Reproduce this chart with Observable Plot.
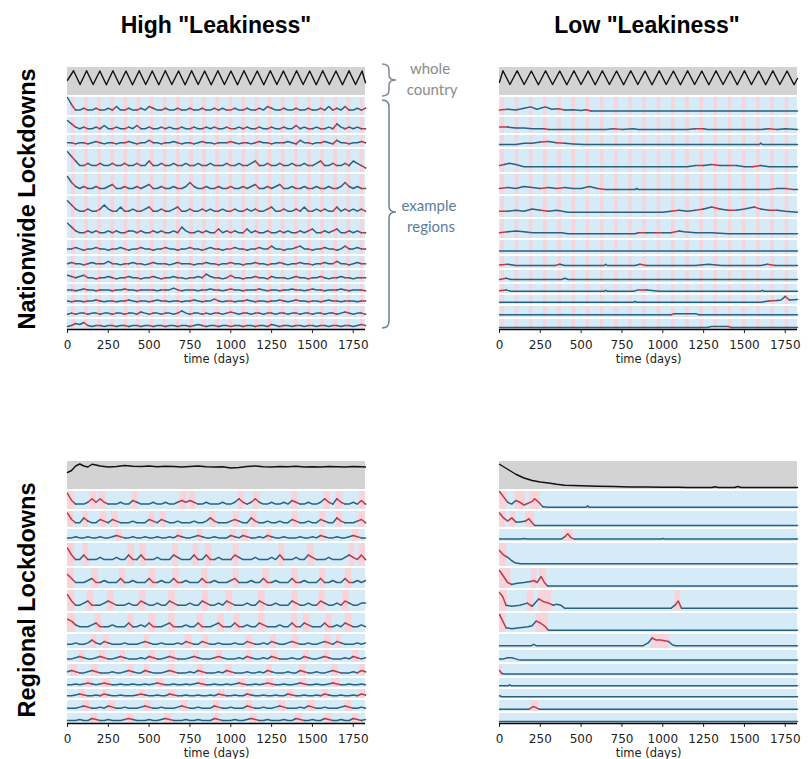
<!DOCTYPE html>
<html><head><meta charset="utf-8">
<script src="https://cdn.jsdelivr.net/npm/d3@7"></script>
<script src="https://cdn.jsdelivr.net/npm/@observablehq/plot@0.6"></script>
<style>
body{margin:0;background:#fff;}
#wrap{position:relative;width:810px;height:759px;overflow:hidden;background:#fff;font-family:"Liberation Sans",Arial,sans-serif;}
.panel{position:absolute;}
.title{position:absolute;font-weight:bold;font-size:23px;color:#000;white-space:nowrap;transform:translate(-50%,-50%);}
.side{position:absolute;font-weight:bold;font-size:23.5px;color:#000;white-space:nowrap;transform:translate(-50%,-50%) rotate(-90deg);}
.note{position:absolute;font-family:Lato,"Open Sans",sans-serif;font-size:15px;white-space:nowrap;transform:translate(-50%,-50%);}
</style></head><body><div id="wrap">
<div class="title" style="left:216px;top:25px">High "Leakiness"</div>
<div class="title" style="left:647px;top:25px">Low "Leakiness"</div>
<div class="side" style="left:27px;top:199px">Nationwide Lockdowns</div>
<div class="side" style="left:27px;top:600px">Regional Lockdowns</div>
<div class="note" style="left:430px;top:68px;color:#8a8a8a">whole</div>
<div class="note" style="left:432px;top:89px;color:#8a8a8a">country</div>
<div class="note" style="left:429px;top:205px;color:#5d7d9c">example</div>
<div class="note" style="left:431px;top:226px;color:#5d7d9c">regions</div>
<svg style="position:absolute;left:0;top:0" width="810" height="759">
<path d="M382,64 Q389,64 389,70 L389,75 Q389,80 396,80 Q389,80 389,85 L389,90 Q389,96 382,96" fill="none" stroke="#7d8792" stroke-width="1.5"/>
<path d="M382,100 Q389,100 389,107 L389,206 Q389,212 396,212 Q389,212 389,218 L389,321 Q389,328 382,328" fill="none" stroke="#6a8198" stroke-width="1.5"/>
</svg>
<div id="tl" class="panel" style="left:59px;top:63px"></div>
<div id="tr" class="panel" style="left:491px;top:63px"></div>
<div id="bl" class="panel" style="left:59px;top:457px"></div>
<div id="br" class="panel" style="left:491px;top:457px"></div>
</div>
<script>
// ---------------- DATA ----------------
const xTicks = [0, 250, 500, 750, 1000, 1250, 1500, 1750];
const dayGrid = [0,25,50,75,100,125,150,175,200,225,250,275,300,325,350,375,400,425,450,475,500,525,550,575,600,625,650,675,700,725,750,775,800,825,850,875,900,925,950,975,1000,1025,1050,1075,1100,1125,1150,1175,1200,1225,1250,1275,1300,1325,1350,1375,1400,1425,1450,1475,1500,1525,1550,1575,1600,1625,1650,1675,1700,1725,1750,1775,1800,1825];

// whole-country curves: [day, fraction of strip height]
const countryNationHigh = [[0,.55],[37,.93],[77,.38],[117,.93],[157,.38],[198,.92],[238,.37],[278,.93],[318,.38],[358,.92],[398,.37],[439,.93],[479,.38],[519,.92],[559,.37],[599,.93],[639,.38],[680,.92],[720,.37],[760,.93],[800,.38],[840,.92],[880,.37],[921,.93],[961,.38],[1001,.92],[1041,.37],[1081,.93],[1121,.38],[1162,.92],[1202,.37],[1242,.93],[1282,.38],[1322,.92],[1362,.37],[1403,.93],[1443,.38],[1483,.92],[1523,.37],[1563,.93],[1603,.38],[1644,.92],[1684,.37],[1724,.93],[1764,.38],[1804,.92],[1825,.45]];
const countryNationLow = [[0,.47],[21,.93],[64,.38],[108,.93],[151,.38],[195,.92],[238,.37],[282,.93],[325,.38],[369,.92],[412,.37],[456,.93],[499,.38],[543,.92],[586,.37],[630,.93],[673,.38],[717,.92],[760,.37],[804,.93],[847,.38],[891,.92],[934,.37],[978,.93],[1021,.38],[1065,.92],[1108,.37],[1152,.93],[1195,.38],[1239,.92],[1282,.37],[1326,.93],[1369,.38],[1413,.92],[1456,.37],[1500,.93],[1543,.38],[1587,.92],[1630,.37],[1674,.93],[1717,.38],[1761,.92],[1804,.37],[1825,.62]];
const countryRegionalHigh = [[0,.62],[25,.7],[50,.88],[75,.96],[100,.88],[125,.84],[150,.95],[175,.92],[200,.88],[250,.84],[300,.86],[350,.9],[400,.87],[450,.86],[500,.88],[550,.85],[600,.87],[650,.86],[700,.84],[750,.86],[800,.88],[850,.85],[900,.84],[950,.85],[1000,.8],[1050,.82],[1100,.86],[1150,.88],[1200,.85],[1250,.84],[1300,.86],[1350,.85],[1400,.87],[1450,.84],[1500,.85],[1550,.84],[1600,.86],[1650,.85],[1700,.84],[1750,.86],[1800,.85],[1825,.84]];
const countryRegionalLow = [[0,.95],[25,.85],[50,.75],[75,.65],[100,.55],[150,.4],[200,.3],[250,.24],[300,.2],[350,.15],[400,.11],[450,.1],[500,.09],[600,.07],[700,.06],[800,.04],[900,.04],[1000,.03],[1100,.03],[1150,.02],[1300,.02],[1320,.05],[1340,.02],[1440,.02],[1460,.06],[1480,.02],[1825,.02]];

// nationwide lockdown periods [start, end] (days)
const lockdownsNationHigh = [[25,47],[105,127],[186,208],[266,288],[346,368],[427,449],[507,529],[587,609],[668,690],[748,770],[828,850],[909,931],[989,1011],[1069,1091],[1150,1172],[1230,1252],[1310,1332],[1391,1413],[1471,1493],[1551,1573],[1632,1654],[1712,1734],[1792,1814]];
const lockdownsNationLow = [[9,31],[96,118],[183,205],[270,292],[357,379],[444,466],[531,553],[618,640],[705,727],[792,814],[879,901],[966,988],[1053,1075],[1140,1162],[1227,1249],[1314,1336],[1401,1423],[1488,1510],[1575,1597],[1662,1684],[1749,1771]];

// example regions, high leakiness, nationwide lockdowns: level (tenths of row height) on dayGrid
const regionsNationHigh = [
 [10,6,3,3,4,3,3,4,3,3, 4,3,5,3,3,4,3,3,4,3, 5,4,3,3,4,3,3,4,3,3, 4,3,3,4,3,3,4,3,4,3, 3,4,3,3,4,3,3,4,3,5, 4,3,3,4,3,3,4,3,3,4, 3,3,4,3,5,3,4,3,5,3, 3,4,3,4],
 [8,6,4,3,4,3,3,4,3,5, 3,3,4,3,3,4,3,5,3,3, 4,3,3,4,3,4,3,3,4,3, 3,4,3,3,4,3,4,3,3,4, 3,3,4,3,4,3,3,4,3,3, 4,3,3,4,3,3,5,3,4,3, 3,4,3,3,4,3,6,4,3,4, 3,4,3,3],
 [4,4,3,4,4,3,4,5,4,3, 4,4,3,4,4,5,4,3,4,4, 6,4,4,3,4,4,5,4,3,4, 4,3,4,5,4,4,3,4,4,4, 5,4,3,4,4,3,4,5,4,4, 3,4,4,4,5,4,3,6,4,4, 3,4,4,5,4,3,6,4,4,3, 4,4,5,4],
 [9,7,5,3,3,4,3,3,4,3, 3,4,3,3,4,3,3,4,3,3, 5,3,3,4,3,3,4,3,3,4, 3,3,4,3,3,4,3,3,3,4, 3,3,4,3,3,4,5,3,3,4, 3,3,4,3,3,4,3,3,4,3, 3,4,5,3,3,4,3,3,4,3, 5,4,3,2],
 [9,6,4,3,4,3,3,4,3,3, 4,5,3,3,4,3,3,4,3,4, 5,3,3,4,3,3,4,3,3,4, 6,4,3,3,4,3,3,4,3,3, 4,3,3,4,3,4,5,3,3,4, 3,4,5,3,3,4,3,3,4,3, 3,4,3,3,4,3,3,4,6,4, 3,4,3,3],
 [8,6,4,3,3,4,3,3,4,6, 4,3,3,5,3,3,4,3,3,4, 5,3,3,4,3,3,4,5,3,3, 4,3,3,4,3,4,3,3,4,3, 3,4,3,3,4,3,4,3,3,4, 5,3,3,4,3,3,4,3,5,3, 3,4,3,4,3,3,5,3,4,3, 4,3,4,3],
 [8,6,4,3,3,4,3,4,3,3, 4,3,4,3,3,4,4,3,4,3, 3,4,3,4,3,3,4,3,6,4, 3,3,4,3,4,3,3,5,3,4, 3,4,3,3,5,3,4,3,3,4, 3,3,4,3,4,3,3,4,3,4, 5,3,3,4,3,4,5,3,3,4, 3,4,3,3],
 [4,4,5,4,3,4,4,5,4,4, 3,4,4,5,4,3,4,4,5,4, 4,3,4,4,5,4,4,3,4,4, 5,4,4,3,4,5,4,4,3,4, 4,5,4,4,3,4,4,5,4,4, 6,4,4,3,4,4,5,6,4,4, 3,4,4,5,4,4,3,4,6,4, 4,5,4,4],
 [4,5,4,4,3,4,5,4,4,4, 6,4,4,3,4,4,5,4,4,3, 4,5,4,4,4,3,4,5,4,4, 4,3,4,4,5,4,4,3,4,4, 5,4,4,3,4,4,5,4,4,3, 4,4,5,4,3,4,4,5,4,4, 3,4,4,5,4,4,6,4,4,3, 4,5,4,4],
 [6,5,4,5,6,4,4,3,4,4, 5,4,3,4,4,5,4,4,3,4, 4,5,4,3,4,4,5,4,4,3, 4,4,5,4,7,5,4,4,3,4, 6,4,4,3,4,4,5,4,4,3, 5,4,4,4,3,4,5,4,4,3, 4,4,5,4,3,4,4,5,4,4, 3,4,4,4],
 [4,4,3,4,5,4,4,3,4,4, 4,3,4,4,5,4,4,3,4,4, 4,4,3,4,4,4,6,4,3,4, 4,4,3,4,4,5,4,4,3,4, 5,4,4,3,4,4,4,5,4,3, 4,4,3,4,4,5,4,4,3,4, 5,4,4,3,4,4,4,5,4,3, 4,4,4,3],
 [4,3,4,4,3,4,4,5,4,3, 4,4,3,4,4,5,4,3,4,4, 3,4,5,4,4,3,4,4,3,4, 4,5,4,3,4,4,6,4,3,4, 4,3,4,4,5,4,3,4,4,3, 4,4,5,4,3,4,5,4,4,3, 4,4,3,4,5,4,4,3,4,4, 4,3,4,4],
 [3,4,3,4,4,3,4,4,3,4, 4,3,4,4,3,4,4,3,5,4, 3,4,4,3,4,4,3,4,6,4, 3,4,4,3,4,3,4,4,3,4, 5,4,3,4,4,3,4,4,3,4, 4,3,4,4,3,4,4,3,4,4, 3,4,4,3,4,4,3,4,5,4, 3,4,4,3],
 [3,4,6,5,7,4,3,4,4,3, 4,4,3,4,4,3,4,4,3,4, 4,3,4,4,3,4,4,3,4,4, 3,4,5,4,3,4,4,3,4,4, 3,4,4,3,4,4,3,4,4,3, 5,4,3,4,4,3,4,4,3,4, 4,3,4,4,3,4,4,3,4,4, 3,4,5,4]
];

// example regions, high leakiness, regional lockdowns
const regionsRegionalHigh = [
 [9,5,3,3,3,4,6,4,6,4, 3,3,3,4,3,3,5,4,3,3, 3,4,3,3,4,3,3,4,5,4, 5,4,3,3,4,3,3,3,4,3, 3,4,6,4,3,4,6,4,3,3, 4,3,3,4,3,5,4,3,3,4, 3,3,4,6,4,3,6,4,3,3, 4,3,5,3],
 [9,5,3,3,6,4,3,3,5,4, 3,5,4,3,3,3,4,3,3,3, 5,4,3,5,4,3,3,4,3,3, 3,4,3,3,4,6,4,3,3,3, 4,5,4,3,3,6,4,3,3,4, 3,3,4,3,3,5,4,3,3,4, 3,3,5,4,3,3,6,4,3,3, 3,4,5,3],
 [3,3,4,3,3,4,3,3,4,3, 3,4,5,4,3,3,4,3,3,4, 3,3,4,3,3,4,3,5,4,3, 3,4,5,4,3,3,4,3,3,3, 5,4,3,5,4,3,3,4,3,5, 4,3,3,4,3,3,3,4,3,3, 4,3,5,4,3,3,4,3,3,4, 5,4,3,3],
 [8,5,3,3,5,3,3,3,4,3, 3,3,4,3,3,5,3,3,5,3, 3,3,4,3,3,3,5,4,3,3, 3,5,3,3,5,3,3,4,3,3, 3,5,4,3,3,3,4,3,3,3, 4,3,5,3,3,3,4,3,3,5, 4,3,3,3,4,3,3,3,4,5, 4,3,5,3],
 [7,5,3,3,3,4,5,3,3,4, 3,3,3,5,3,3,4,3,3,3, 5,3,3,4,3,3,5,3,3,4, 3,3,3,5,3,3,4,3,3,3, 4,5,3,3,3,4,3,3,5,3, 3,4,3,3,3,5,3,3,4,3, 3,3,5,3,3,4,3,3,5,3, 3,4,3,4],
 [8,5,3,3,4,5,3,3,3,4, 5,4,3,3,3,4,3,3,5,4, 3,3,4,3,3,5,4,3,3,3, 4,3,3,5,4,3,3,4,3,5, 4,3,3,3,4,3,3,5,4,3, 3,4,3,3,3,5,4,3,3,4, 3,3,5,4,3,3,4,3,5,4, 3,3,4,4],
 [7,6,4,3,3,3,4,5,3,3, 3,4,3,3,3,5,3,3,4,3, 5,3,3,3,4,5,3,3,3,4, 3,3,5,3,3,3,4,5,3,3, 3,5,3,3,4,3,3,5,4,3, 3,3,4,3,3,5,3,3,5,4, 3,3,3,5,3,3,4,3,5,4, 3,3,4,3],
 [3,3,4,3,3,4,6,4,3,5, 4,3,3,3,4,3,3,3,4,5, 4,3,3,4,3,3,3,4,3,5, 4,3,3,5,4,3,3,4,3,3, 3,4,3,3,5,4,3,3,4,3, 5,4,3,3,4,5,4,3,3,4, 3,3,4,5,4,3,5,4,3,3, 3,4,3,4],
 [3,3,4,5,4,3,3,4,5,4, 3,3,4,5,4,3,3,3,4,3, 5,4,3,3,4,5,4,3,3,3, 4,5,4,3,3,3,4,5,4,3, 3,3,4,3,5,4,3,3,4,3, 5,4,3,3,3,4,3,3,5,4, 3,3,4,5,4,3,3,3,4,3, 5,4,3,4],
 [4,5,4,3,3,4,5,4,3,3, 3,4,3,3,4,5,4,3,3,5, 4,3,3,3,4,5,4,3,3,3, 4,3,5,4,3,3,3,4,3,5, 4,3,3,3,4,3,3,4,3,5, 4,3,3,3,4,3,3,5,4,3, 3,4,3,3,4,5,4,3,3,3, 4,3,5,4],
 [3,3,4,3,4,5,4,3,4,5, 4,3,3,4,3,3,4,3,3,4, 3,4,5,4,3,3,4,3,3,4, 3,4,5,4,3,3,4,3,3,4, 3,4,5,4,3,3,4,3,4,5, 4,3,3,4,3,3,4,5,4,3, 3,4,3,3,4,5,4,3,3,4, 3,3,4,3],
 [3,3,4,5,4,3,3,4,3,5, 4,3,3,4,3,3,3,4,5,4, 3,3,4,3,3,5,4,3,3,4, 3,3,4,3,3,4,3,5,4,3, 3,4,3,3,5,4,3,3,4,3, 3,4,3,3,5,4,3,3,4,3, 3,4,3,5,4,3,3,4,3,3, 4,3,5,4],
 [3,3,3,4,5,4,3,3,4,3, 5,4,3,3,4,3,3,3,4,5, 4,3,3,4,3,3,3,4,5,4, 3,3,4,3,3,3,5,4,3,3, 4,3,3,3,5,4,3,3,4,3, 3,4,5,4,3,3,3,4,3,5, 4,3,3,4,3,3,3,4,5,4, 3,3,4,3],
 [3,3,3,4,3,3,5,4,3,3, 4,3,3,3,4,5,4,3,3,3, 4,3,3,4,5,4,3,3,3,4, 3,3,4,3,3,3,5,4,3,3, 3,4,3,3,4,5,4,3,3,4, 3,3,3,4,3,3,5,4,3,3, 4,3,3,5,4,3,3,4,3,3, 5,4,3,4]
];
const lockdownsRegionalHigh = [
 [[0,40],[140,180],[195,235],[395,430],[690,730],[745,785],[1045,1085],[1140,1180],[1370,1410],[1570,1610],[1645,1685],[1790,1825]],
 [[0,40],[95,130],[200,240],[270,310],[500,535],[570,605],[870,910],[1015,1050],[1120,1160],[1375,1410],[1545,1580],[1645,1685],[1785,1825]],
 [[295,335],[670,705],[795,830],[995,1030],[1070,1110],[1220,1255],[1545,1580],[1745,1785]],
 [[0,45],[95,130],[370,410],[445,485],[645,680],[770,805],[845,885],[1015,1050],[1295,1330],[1470,1510],[1725,1760],[1785,1825]],
 [[0,40],[150,190],[320,355],[500,540],[645,685],[820,860],[1015,1050],[1195,1235],[1375,1415],[1545,1580],[1700,1740]],
 [[0,45],[120,160],[245,285],[440,480],[620,660],[825,865],[970,1010],[1170,1210],[1375,1415],[1540,1580],[1685,1725]],
 [[0,50],[170,210],[370,405],[500,540],[620,660],[795,835],[920,960],[1020,1060],[1170,1210],[1370,1410],[1445,1485],[1580,1620],[1700,1740]],
 [[145,180],[220,255],[470,505],[720,760],[830,865],[1095,1135],[1245,1280],[1375,1415],[1575,1615],[1645,1680]],
 [[70,105],[195,235],[320,355],[500,540],[620,660],[770,805],[910,950],[1095,1130],[1245,1285],[1445,1480],[1570,1605],[1745,1785]],
 [[20,60],[150,190],[370,405],[470,505],[620,660],[795,835],[970,1010],[1220,1255],[1420,1460],[1620,1660],[1790,1825]],
 [[115,155],[215,260],[545,590],[805,850],[1050,1090],[1215,1260],[1420,1465],[1620,1665]],
 [[75,110],[215,250],[440,480],[620,660],[925,965],[1095,1130],[1345,1385],[1565,1600],[1790,1825]],
 [[95,135],[255,295],[470,510],[695,735],[895,935],[1095,1135],[1295,1335],[1475,1515],[1700,1740]],
 [[145,185],[365,405],[595,640],[895,935],[1120,1160],[1395,1440],[1580,1620],[1745,1785]]
];

// example regions, low leakiness, nationwide lockdowns: [day, tenths of row height]
const regionsNationLow = [
 [[0,3],[50,3.5],[100,3],[150,4],[190,4.8],[230,3.5],[280,4.8],[320,3.5],[360,3.8],[400,3],[450,3.2],[500,2.8],[530,3.2],[560,2.5],[1825,2.5]],
 [[0,4],[50,4],[100,3.5],[150,3.5],[200,3],[275,3],[300,2.5],[650,2.5],[700,3],[750,2.5],[820,3],[850,2.5],[1150,2.5],[1200,3],[1250,3],[1275,2.5],[1600,2.5],[1650,3],[1700,2.5],[1750,3],[1825,2.5]],
 [[0,2.5],[100,2.5],[150,3.5],[200,3.5],[250,4.5],[300,5],[350,4],[400,3.5],[450,3],[520,2.5],[1590,2.5],[1600,3.5],[1610,2.5],[1825,2.5]],
 [[0,3],[30,3.5],[60,4],[100,3.5],[150,2.5],[1150,2.5],[1200,3],[1250,3],[1300,3.5],[1350,3],[1400,3],[1450,3],[1500,2.5],[1550,2.5],[1600,3],[1650,2.5],[1825,2.5]],
 [[0,3],[50,3.5],[100,3],[150,4],[200,3.5],[250,3],[300,3.5],[350,3],[400,3.5],[450,3],[500,3],[550,4],[600,3],[650,2.5],[830,2.5],[840,3],[850,2.5],[1650,2.5],[1700,3],[1750,3],[1800,2.5],[1825,2.5]],
 [[0,3],[50,3],[100,3.5],[150,3],[200,4],[250,3.5],[300,3],[350,3.5],[420,2.5],[1000,2.5],[1050,3],[1100,3.5],[1150,3],[1200,3.5],[1250,4],[1300,5],[1350,4],[1400,3.5],[1450,3.5],[1500,4],[1560,5],[1600,4],[1650,3.5],[1700,3.5],[1750,3],[1825,2.5]],
 [[0,3],[50,3.5],[100,4],[150,3.5],[200,3],[300,3],[380,3],[420,2.5],[830,2.5],[850,3],[900,3],[950,3],[1000,3],[1050,3],[1100,4],[1130,3.5],[1200,3],[1300,3],[1400,2.5],[1825,2.5]],
 [[0,2.5],[1825,2.5]],
 [[0,3],[50,3.5],[100,2.5],[340,2.5],[370,3.5],[400,2.5],[640,2.5],[650,3.5],[660,2.5],[830,2.5],[860,3.5],[900,2.5],[1200,2.5],[1280,3.5],[1360,2.5],[1600,2.5],[1640,3.5],[1690,2.5],[1825,2.5]],
 [[0,2.5],[40,3.5],[70,2.5],[380,2.5],[400,3.5],[420,2.5],[1825,2.5]],
 [[0,3],[40,4],[70,2.5],[640,2.5],[650,3.5],[660,2.5],[820,2.5],[850,4],[900,4],[980,2.5],[1600,2.5],[1610,3.5],[1620,2.5],[1825,2.5]],
 [[0,2.5],[820,2.5],[830,3.5],[840,2.5],[1600,2.5],[1650,4],[1700,4.5],[1725,5],[1750,9],[1775,5],[1825,5.5]],
 [[0,2.5],[1050,2.5],[1070,3.5],[1100,3.5],[1150,3.5],[1200,3.5],[1220,2.5],[1825,2.5]],
 [[0,2],[1270,2],[1300,3],[1400,3],[1420,2],[1825,2]]
];

// example regions, low leakiness, regional lockdowns
const regionsRegionalLow = [
 [[0,10],[25,7],[50,4],[75,3],[100,5],[125,4],[150,2.5],[175,3.5],[200,4.5],[215,6],[240,4],[265,1.5],[300,1.2],[530,1.2],[540,2],[550,1.2],[1825,1.2]],
 [[0,9],[25,6],[50,4],[75,6],[100,3.5],[125,3.5],[160,4],[180,5.5],[200,3],[215,1.2],[1825,1.2]],
 [[0,2],[130,2],[150,2.5],[170,2],[380,2],[400,4],[418,6.5],[440,3],[460,2],[990,2],[1000,2.5],[1010,2],[1825,2]],
 [[0,7],[25,5],[50,4],[75,2.5],[100,1.5],[130,1.2],[1825,1.2]],
 [[0,9],[25,6],[50,3],[75,2],[100,2.5],[150,3],[190,3.5],[210,4],[230,3],[255,6],[275,3],[295,1.2],[1825,1.2]],
 [[0,9],[20,7],[40,3],[75,2.5],[125,3],[170,4],[200,2.5],[240,6],[275,4.5],[300,4],[330,3],[350,3.5],[375,3],[400,1.5],[1050,1.5],[1075,3],[1095,5],[1115,1.5],[1825,1.5]],
 [[0,9.5],[20,6],[40,2.5],[75,2],[125,2.5],[175,3],[200,3.5],[225,6],[250,5],[275,3.5],[300,1.2],[1825,1.2]],
 [[0,2],[195,2],[210,3],[225,2],[880,2],[910,4],[935,7.5],[960,6],[985,6],[1010,5.5],[1035,5],[1060,2.5],[1080,2],[1825,2]],
 [[0,3],[25,3],[50,4],[75,4],[100,3],[125,2],[1825,2]],
 [[0,5],[15,2.5],[30,2],[1825,2]],
 [[0,2],[55,2],[62,3],[70,2],[1825,2]],
 [[0,3],[15,2],[1825,2]],
 [[0,2],[180,2],[205,4.5],[225,3.5],[245,2],[1825,2]],
 [[0,2],[1825,2]]
];
const lockdownsRegionalLow = [
 [[0,45],[95,160],[185,250]],
 [[0,40],[65,100],[160,215]],
 [[400,450]],
 [[0,45]],
 [[0,70],[195,230],[245,290]],
 [[0,50],[170,210],[240,320],[1075,1110]],
 [[0,40],[225,300]],
 [[930,1040]],
 [],
 [[0,15]],
 [],
 [],
 [[195,240]],
 []
];

// ---------------- LAYOUT / DRAW ----------------
const DAY_MAX = 1825;
const STRIP = 28, GAP = 2;
const rowH = [20,18,14,25,22,23,21,16,14,14,11,11,13,10];
const rowTop = []; let acc = STRIP + GAP;
for (const h of rowH) { rowTop.push(acc); acc += h; }
const TOTAL = acc;
const bandBottom = i => rowTop[i] + rowH[i] - (i < rowH.length - 1 ? GAP : 0);

const C = {bgBlue: "#d5ebf7", bgPink: "#f7d3da", strip: "#d3d3d3", line: "#29627f", red: "#bd3a4b"};
const MT = 4, ML = 8, PW = 298;

function overlapFrac(a, b, ivs) {
  const len = b - a; if (len <= 0) return 0;
  let o = 0;
  for (const [s, e] of ivs) o += Math.max(0, Math.min(b, e) - Math.max(a, s));
  return o / len;
}

function drawPanel(el, country, rows, lockdowns) {
  const strip = [{x1: 0, x2: DAY_MAX, y1: 0, y2: STRIP}];
  const bg = [], lines = [];
  rows.forEach((pts, i) => {
    const y1 = rowTop[i], y2 = bandBottom(i);
    bg.push({x1: 0, x2: DAY_MAX, y1, y2, fill: C.bgBlue});
    for (const [s, e] of lockdowns[i]) bg.push({x1: s, x2: Math.min(e, DAY_MAX), y1, y2, fill: C.bgPink});
    pts.forEach(([d, v], j) => {
      const nxt = j < pts.length - 1 ? pts[j + 1][0] : d;
      const red = j < pts.length - 1 && overlapFrac(d, nxt, lockdowns[i]) >= 0.4;
      lines.push({row: i, x: d, y: y2 - (v / 10) * (y2 - y1), c: red ? C.red : C.line});
    });
  });
  const plot = Plot.plot({
    width: PW + 2 * ML, height: MT + TOTAL + 44,
    marginLeft: ML, marginRight: ML, marginTop: MT, marginBottom: 44,
    x: {domain: [0, DAY_MAX], range: [ML, ML + PW], ticks: xTicks, tickSize: 4, tickPadding: 7, tickFormat: "d", label: null},
    y: {domain: [0, TOTAL], range: [MT, MT + TOTAL], axis: null},
    color: {type: "identity"},
    style: {fontFamily: "DejaVu Sans", fontSize: "12px", color: "#222", background: "transparent", overflow: "visible"},
    marks: [
      Plot.rect(strip, {x1: "x1", x2: "x2", y1: "y1", y2: "y2", fill: C.strip}),
      Plot.rect(bg, {x1: "x1", x2: "x2", y1: "y1", y2: "y2", fill: "fill"}),
      Plot.line(country, {x: d => d[0], y: d => STRIP - 1.5 - d[1] * (STRIP - 3), stroke: "#111", strokeWidth: 1.4}),
      Plot.line(lines, {x: "x", y: "y", z: "row", stroke: "c", strokeWidth: 1.5, strokeLinejoin: "round"}),
      Plot.ruleY([TOTAL], {stroke: "#000", strokeWidth: 1.6}),
      Plot.text(["time (days)"], {text: d => d, frameAnchor: "bottom", dy: 33, fontSize: 11.5, fill: "#222"})
    ]
  });
  document.getElementById(el).appendChild(plot);
}

const gridPts = arr => arr.map((v, i) => [dayGrid[i], v]).filter(p => p[0] !== undefined);
const same = ivs => rowH.map(() => ivs);

drawPanel("tl", countryNationHigh, regionsNationHigh.map(gridPts), same(lockdownsNationHigh));
drawPanel("tr", countryNationLow, regionsNationLow, same(lockdownsNationLow));
drawPanel("bl", countryRegionalHigh, regionsRegionalHigh.map(gridPts), lockdownsRegionalHigh);
drawPanel("br", countryRegionalLow, regionsRegionalLow, lockdownsRegionalLow);
</script>
</body></html>
